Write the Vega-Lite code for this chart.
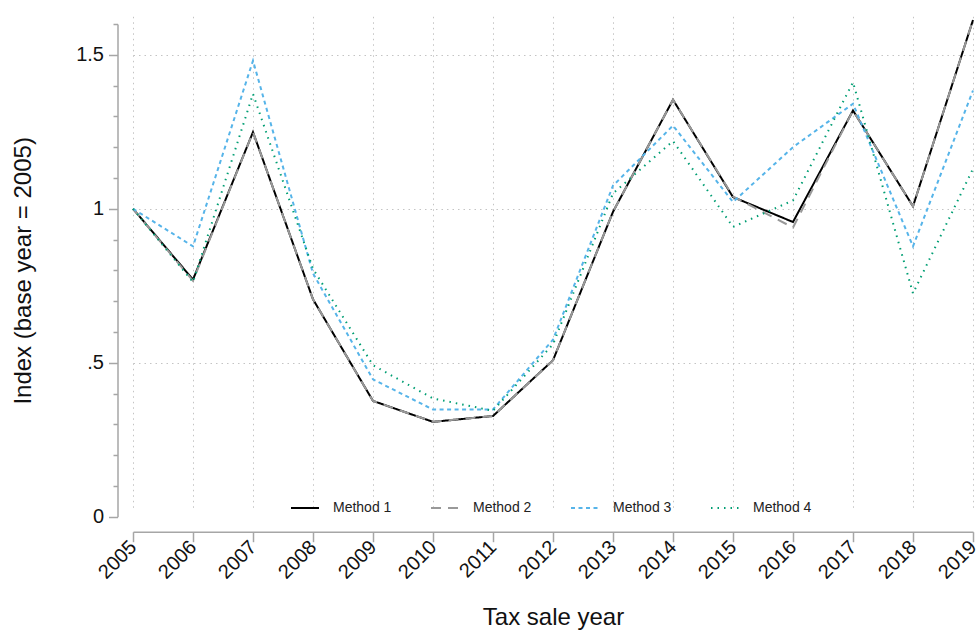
{
  "$schema": "https://vega.github.io/schema/vega-lite/v6.json",
  "autosize": "none",
  "width": 857,
  "height": 521,
  "padding": {"left": 120, "top": 6, "right": 0, "bottom": 108},
  "background": "white",
  "config": {"view": {"stroke": null}, "font": "Liberation Sans"},
  "data": {"values": [
    {"year": 2005, "method": "Method 1", "value": 1.000},
    {"year": 2006, "method": "Method 1", "value": 0.770},
    {"year": 2007, "method": "Method 1", "value": 1.249},
    {"year": 2008, "method": "Method 1", "value": 0.706},
    {"year": 2009, "method": "Method 1", "value": 0.376},
    {"year": 2010, "method": "Method 1", "value": 0.308},
    {"year": 2011, "method": "Method 1", "value": 0.327},
    {"year": 2012, "method": "Method 1", "value": 0.508},
    {"year": 2013, "method": "Method 1", "value": 0.990},
    {"year": 2014, "method": "Method 1", "value": 1.354},
    {"year": 2015, "method": "Method 1", "value": 1.038},
    {"year": 2016, "method": "Method 1", "value": 0.957},
    {"year": 2017, "method": "Method 1", "value": 1.319},
    {"year": 2018, "method": "Method 1", "value": 1.008},
    {"year": 2019, "method": "Method 1", "value": 1.613},
    {"year": 2005, "method": "Method 2", "value": 1.000},
    {"year": 2006, "method": "Method 2", "value": 0.766},
    {"year": 2007, "method": "Method 2", "value": 1.249},
    {"year": 2008, "method": "Method 2", "value": 0.706},
    {"year": 2009, "method": "Method 2", "value": 0.376},
    {"year": 2010, "method": "Method 2", "value": 0.308},
    {"year": 2011, "method": "Method 2", "value": 0.327},
    {"year": 2012, "method": "Method 2", "value": 0.508},
    {"year": 2013, "method": "Method 2", "value": 0.990},
    {"year": 2014, "method": "Method 2", "value": 1.354},
    {"year": 2015, "method": "Method 2", "value": 1.040},
    {"year": 2016, "method": "Method 2", "value": 0.939},
    {"year": 2017, "method": "Method 2", "value": 1.319},
    {"year": 2018, "method": "Method 2", "value": 1.008},
    {"year": 2019, "method": "Method 2", "value": 1.613},
    {"year": 2005, "method": "Method 3", "value": 1.000},
    {"year": 2006, "method": "Method 3", "value": 0.878},
    {"year": 2007, "method": "Method 3", "value": 1.481},
    {"year": 2008, "method": "Method 3", "value": 0.790},
    {"year": 2009, "method": "Method 3", "value": 0.446},
    {"year": 2010, "method": "Method 3", "value": 0.348},
    {"year": 2011, "method": "Method 3", "value": 0.348},
    {"year": 2012, "method": "Method 3", "value": 0.575},
    {"year": 2013, "method": "Method 3", "value": 1.075},
    {"year": 2014, "method": "Method 3", "value": 1.270},
    {"year": 2015, "method": "Method 3", "value": 1.022},
    {"year": 2016, "method": "Method 3", "value": 1.200},
    {"year": 2017, "method": "Method 3", "value": 1.341},
    {"year": 2018, "method": "Method 3", "value": 0.878},
    {"year": 2019, "method": "Method 3", "value": 1.384},
    {"year": 2005, "method": "Method 4", "value": 1.000},
    {"year": 2006, "method": "Method 4", "value": 0.762},
    {"year": 2007, "method": "Method 4", "value": 1.373},
    {"year": 2008, "method": "Method 4", "value": 0.805},
    {"year": 2009, "method": "Method 4", "value": 0.492},
    {"year": 2010, "method": "Method 4", "value": 0.384},
    {"year": 2011, "method": "Method 4", "value": 0.344},
    {"year": 2012, "method": "Method 4", "value": 0.560},
    {"year": 2013, "method": "Method 4", "value": 1.050},
    {"year": 2014, "method": "Method 4", "value": 1.220},
    {"year": 2015, "method": "Method 4", "value": 0.941},
    {"year": 2016, "method": "Method 4", "value": 1.027},
    {"year": 2017, "method": "Method 4", "value": 1.411},
    {"year": 2018, "method": "Method 4", "value": 0.725},
    {"year": 2019, "method": "Method 4", "value": 1.130}
  ]},
  "mark": {"type": "line", "clip": false},
  "encoding": {
    "x": {
      "field": "year", "type": "quantitative",
      "scale": {"domain": [2005, 2019], "range": [13, 853], "nice": false, "zero": false},
      "axis": {
        "values": [2005, 2006, 2007, 2008, 2009, 2010, 2011, 2012, 2013, 2014, 2015, 2016, 2017, 2018, 2019],
        "format": "d", "title": "Tax sale year",
        "labelAngle": -45, "labelAlign": "right", "labelBaseline": "middle",
        "labelFontSize": 20, "labelColor": "#111", "labelPadding": 2,
        "labelFlush": false, "labelOverlap": false,
        "tickSize": 10, "tickWidth": 1.5, "tickColor": "#a6a6a6",
        "domainColor": "#a6a6a6", "domainWidth": 1.5, "offset": 4.7,
        "grid": true, "gridDash": [1.5, 4], "gridColor": "#c4c4c4", "gridWidth": 1,
        "titleFontSize": 24, "titleFontWeight": "normal", "titleColor": "#111", "titlePadding": 23
      }
    },
    "y": {
      "field": "value", "type": "quantitative",
      "scale": {"domain": [0, 1.6], "range": [510.7, 18], "nice": false, "zero": false},
      "axis": {
        "values": [0, 0.1, 0.2, 0.3, 0.4, 0.5, 0.6, 0.7, 0.8, 0.9, 1, 1.1, 1.2, 1.3, 1.4, 1.5, 1.6],
        "labelExpr": "abs(datum.value) < 0.001 ? '0' : abs(datum.value - 0.5) < 0.001 ? '.5' : abs(datum.value - 1) < 0.001 ? '1' : abs(datum.value - 1.5) < 0.001 ? '1.5' : ''",
        "title": "Index (base year = 2005)",
        "labelFontSize": 20, "labelColor": "#111", "labelPadding": 5,
        "labelFlush": false, "labelOverlap": false,
        "tickSize": {"condition": {"test": "abs(datum.value * 2 - round(datum.value * 2)) < 0.001", "value": 9}, "value": 4.5},
        "tickWidth": 1.5, "tickColor": "#a6a6a6",
        "domainColor": "#a6a6a6", "domainWidth": 1.5, "offset": 2.5,
        "grid": true, "gridDash": [1.5, 4], "gridColor": "#c4c4c4", "gridWidth": 1,
        "gridOpacity": {"condition": {"test": "abs(datum.value * 2 - round(datum.value * 2)) < 0.001 && datum.value > 0.01", "value": 1}, "value": 0},
        "titleFontSize": 24, "titleFontWeight": "normal", "titleColor": "#111", "titlePadding": 40
      }
    },
    "color": {
      "field": "method", "type": "nominal",
      "scale": {"domain": ["Method 1", "Method 2", "Method 3", "Method 4"], "range": ["#000000", "#999999", "#56B4E9", "#009E73"]},
      "legend": {
        "orient": "none", "legendX": 170, "legendY": 487, "direction": "horizontal",
        "title": null, "symbolType": "stroke", "symbolSize": 784, "symbolStrokeWidth": 2,
        "labelFontSize": 14, "labelColor": "#222", "labelOffset": 13, "columnPadding": 35, "padding": 0
      }
    },
    "strokeDash": {
      "field": "method", "type": "nominal",
      "scale": {"domain": ["Method 1", "Method 2", "Method 3", "Method 4"], "range": [[1, 0], [10, 7], [4, 3.5], [1.5, 5]]},
      "legend": {
        "orient": "none", "legendX": 170, "legendY": 487, "direction": "horizontal",
        "title": null, "symbolType": "stroke", "symbolSize": 784, "symbolStrokeWidth": 2,
        "labelFontSize": 14, "labelColor": "#222", "labelOffset": 13, "columnPadding": 35, "padding": 0
      }
    },
    "strokeWidth": {
      "field": "method", "type": "nominal",
      "scale": {"domain": ["Method 1", "Method 2", "Method 3", "Method 4"], "range": [2, 2, 2.5, 1.8]},
      "legend": null
    }
  }
}
